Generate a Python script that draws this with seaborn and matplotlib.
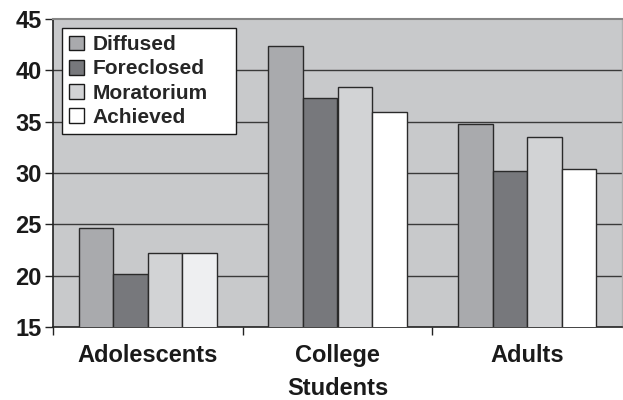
import matplotlib
matplotlib.use("Agg")
import matplotlib.pyplot as plt
import seaborn as sns
import pandas as pd
from matplotlib.patches import Patch

# Identity-status scores by age group
groups = ["Adolescents", "College\nStudents", "Adults"]
statuses = ["Diffused", "Foreclosed", "Moratorium", "Achieved"]
diffused = [24.6, 42.4, 34.8]
foreclosed = [20.2, 37.3, 30.2]
moratorium = [22.2, 38.4, 33.5]
achieved = [22.2, 35.9, 30.4]
y_ticks = [15, 20, 25, 30, 35, 40, 45]

colors = ["#a9aaad", "#77787c", "#d2d3d5", "#ffffff"]

df = pd.DataFrame({
    "group": groups * 4,
    "status": [s for s in statuses for _ in groups],
    "score": diffused + foreclosed + moratorium + achieved,
})

sns.set_theme(style="white")
plt.rcParams["font.family"] = ["Liberation Sans", "DejaVu Sans"]
plt.rcParams["font.weight"] = "bold"

fig = plt.figure(figsize=(6.23, 4.0), dpi=100)
ax = fig.add_axes([53 / 623, 1 - 327 / 400, 569 / 623, 308 / 400])
ax.set_facecolor("#c8c9cb")

sns.barplot(data=df, x="group", y="score", hue="status", order=groups,
            hue_order=statuses, palette=colors, width=0.73, gap=0,
            edgecolor="#2a2a2a", linewidth=1.0, saturation=1,
            legend=False, ax=ax, zorder=3)

# the adolescents' achieved bar is drawn a touch off-white
ax.containers[3][0].set_facecolor("#eeeff1")

ax.set_ylim(15, 45)
ax.set_xlim(-0.5, 2.5)
ax.set_yticks(y_ticks)
ax.set_yticklabels([str(v) for v in y_ticks], fontsize=17, fontweight="bold",
                   color="#1a1a1a")
ax.tick_params(axis="y", direction="out", length=6, width=1, color="#222222",
               pad=2, left=True)
ax.set_xticks(range(len(groups)))
ax.set_xticklabels(groups, fontsize=17, fontweight="bold", color="#1a1a1a",
                   linespacing=1.55)
ax.tick_params(axis="x", which="major", length=0, pad=12)
ax.set_xticks([-0.5, 0.5, 1.5], minor=True)
ax.tick_params(axis="x", which="minor", direction="out", length=6, width=1,
               color="#222222", bottom=True)
ax.set_xlabel("")
ax.set_ylabel("")

for v in y_ticks[1:-1]:
    ax.axhline(v, color="#3a3a3a", linewidth=1.0, zorder=1)

for side in ["left", "bottom"]:
    ax.spines[side].set_color("#222222")
    ax.spines[side].set_linewidth(1.2)
ax.spines["top"].set_color("#858585")
ax.spines["top"].set_linewidth(1.5)
ax.spines["right"].set_color("#b0b0b0")
ax.spines["right"].set_linewidth(1.0)

handles = [Patch(facecolor=c, edgecolor="#1a1a1a", linewidth=1.0) for c in colors]
leg = fig.legend(handles, statuses, loc="upper left", mode="expand",
                 bbox_to_anchor=(62 / 623, 1 - 134 / 400, 174 / 623, 106 / 400),
                 bbox_transform=fig.transFigure, borderaxespad=0,
                 prop={"family": "Liberation Sans", "weight": "bold", "size": 15},
                 frameon=True, fancybox=False, framealpha=1,
                 handlelength=0.72, handleheight=0.72, handletextpad=0.4,
                 labelspacing=0.25, borderpad=0.35)
leg.get_frame().set_edgecolor("#1a1a1a")
leg.get_frame().set_linewidth(1.0)
leg.get_frame().set_facecolor("white")

fig.savefig("out.png", dpi=100)
